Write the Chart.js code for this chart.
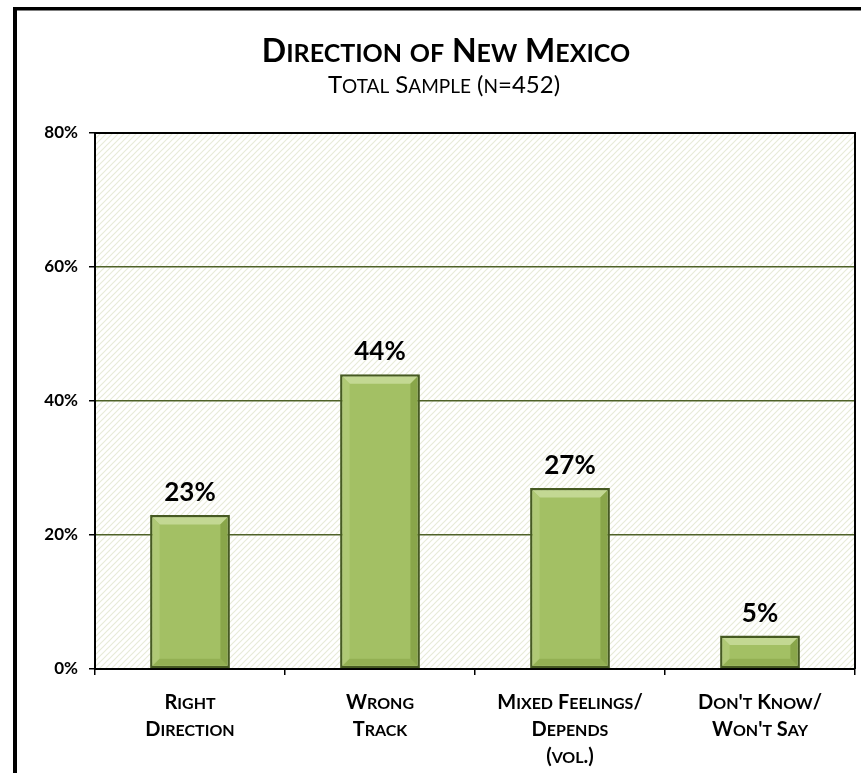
<!DOCTYPE html>
<html>
<head>
<meta charset="utf-8">
<script src="https://cdn.jsdelivr.net/npm/chart.js@4.4.1/dist/chart.umd.min.js"></script>
<style>
  html, body { margin: 0; padding: 0; background: #fff; }
  #wrap { width: 861px; height: 773px; }
</style>
</head>
<body>
<div id="wrap"><canvas id="chart"></canvas></div>
<script>
const title = 'Direction of New Mexico';
const subtitle = 'Total Sample (n=452)';
const categories = [
  ['Right', 'Direction'],
  ['Wrong', 'Track'],
  ['Mixed Feelings/', 'Depends', '(vol.)'],
  ["Don't Know/", "Won't Say"]
];
const values = [23, 44, 27, 5];

const FONT = 'Lato, "Open Sans", sans-serif';

// Word-style small caps: lowercase letters drawn as smaller capitals
function drawSmallCaps(ctx, text, cx, baseline, size, weight) {
  const small = Math.round(size * 0.78);
  const runs = [];
  for (const ch of text) {
    const lower = ch !== ch.toUpperCase();
    const font = `${weight} ${lower ? small : size}px ${FONT}`;
    const last = runs[runs.length - 1];
    if (last && last.font === font) last.text += ch.toUpperCase();
    else runs.push({ font, text: ch.toUpperCase() });
  }
  let total = 0;
  runs.forEach(r => { ctx.font = r.font; r.w = ctx.measureText(r.text).width; total += r.w; });
  let x = cx - total / 2;
  ctx.textAlign = 'left';
  ctx.textBaseline = 'alphabetic';
  runs.forEach(r => { ctx.font = r.font; ctx.fillText(r.text, x, baseline); x += r.w; });
}

function hatchPattern(ctx) {
  const c = document.createElement('canvas');
  c.width = 6; c.height = 6;
  const p = c.getContext('2d');
  p.fillStyle = '#ffffff';
  p.fillRect(0, 0, 6, 6);
  p.strokeStyle = '#e8ebd9';
  p.lineWidth = 1.2;
  p.beginPath();
  p.moveTo(-1, 7); p.lineTo(7, -1);
  p.moveTo(-1, 1); p.lineTo(1, -1);
  p.moveTo(5, 7); p.lineTo(7, 5);
  p.stroke();
  return ctx.createPattern(c, 'repeat');
}

const framePlugin = {
  id: 'frame',
  beforeDraw(chart) {
    const { ctx, chartArea: a } = chart;
    ctx.save();
    ctx.fillStyle = '#fff';
    ctx.fillRect(0, 0, chart.width, chart.height);
    ctx.fillStyle = '#000';
    ctx.fillRect(13, 7, 4, chart.height - 7);
    ctx.fillRect(13, 7, chart.width - 13, 3.5);
    ctx.fillStyle = hatchPattern(ctx);
    ctx.fillRect(a.left, a.top, a.right - a.left, a.bottom - a.top);
    ctx.fillStyle = '#000';
    drawSmallCaps(ctx, title, 446, 62, 32, 'bold');
    drawSmallCaps(ctx, subtitle, 444, 93, 24, 'normal');
    ctx.restore();
  },
  afterDraw(chart) {
    const { ctx, chartArea: a } = chart;
    ctx.save();
    ctx.strokeStyle = '#000';
    ctx.lineWidth = 2;
    ctx.beginPath();
    ctx.moveTo(a.left, a.top);
    ctx.lineTo(a.right, a.top);
    ctx.lineTo(a.right, a.bottom);
    ctx.stroke();
    ctx.restore();
  }
};

// Bevelled bars, value labels and category labels
const barPlugin = {
  id: 'bars',
  afterDatasetsDraw(chart) {
    const { ctx } = chart;
    const meta = chart.getDatasetMeta(0);
    const bw = 2.5, d = 7;
    ctx.save();
    meta.data.forEach((bar, i) => {
      const p = bar.getProps(['x', 'y', 'base', 'width'], true);
      const l = p.x - p.width / 2 + bw, r = p.x + p.width / 2 - bw;
      const t = p.y + bw, b = p.base - bw;
      const dd = Math.min(d, (b - t) / 2);
      const face = (pts, color) => {
        ctx.fillStyle = color;
        ctx.beginPath();
        ctx.moveTo(pts[0][0], pts[0][1]);
        pts.slice(1).forEach(q => ctx.lineTo(q[0], q[1]));
        ctx.closePath();
        ctx.fill();
      };
      face([[l, t], [r, t], [r - dd, t + dd], [l + dd, t + dd]], '#c3d893');
      face([[l, t], [l + dd, t + dd], [l + dd, b - dd], [l, b]], '#afc975');
      face([[r, t], [r, b], [r - dd, b - dd], [r - dd, t + dd]], '#89a64a');
      face([[l, b], [l + dd, b - dd], [r - dd, b - dd], [r, b]], '#93b053');

      ctx.fillStyle = '#000';
      ctx.font = `bold 26px ${FONT}`;
      ctx.textAlign = 'center';
      ctx.textBaseline = 'alphabetic';
      ctx.fillText(values[i] + '%', p.x, p.y - 14);
    });

    const xs = chart.scales.x;
    ctx.fillStyle = '#000';
    categories.forEach((lines, i) => {
      const cx = xs.getPixelForValue(i);
      lines.forEach((line, j) => {
        drawSmallCaps(ctx, line, cx, 709 + j * 27, 20, 'bold');
      });
    });
    ctx.restore();
  }
};

const ctx = document.getElementById('chart').getContext('2d');
new Chart(ctx, {
  type: 'bar',
  data: {
    labels: categories.map(c => c.join(' ')),
    datasets: [{
      data: values,
      backgroundColor: '#a3c064',
      borderColor: '#465a22',
      borderWidth: 2.5,
      borderSkipped: false,
      barPercentage: 0.42,
      categoryPercentage: 1
    }]
  },
  options: {
    responsive: true,
    maintainAspectRatio: false,
    animation: false,
    layout: { padding: { top: 133, right: 6, left: 0, bottom: 0 } },
    plugins: {
      legend: { display: false },
      tooltip: { enabled: false }
    },
    scales: {
      x: {
        afterFit(scale) { scale.height = 104; },
        grid: {
          offset: true,
          drawOnChartArea: false,
          drawTicks: true,
          tickLength: 6,
          tickColor: '#000',
          lineWidth: 1.5
        },
        border: { display: true, color: '#000', width: 2 },
        ticks: { callback: () => '' }
      },
      y: {
        min: 0,
        max: 80,
        afterFit(scale) { scale.width = 95; },
        ticks: {
          stepSize: 20,
          callback: v => v + '%',
          color: '#000',
          padding: 11,
          font: { family: FONT, size: 17, weight: 'bold' }
        },
        grid: {
          color: c => (c.tick && (c.tick.value === 0 || c.tick.value === 80)) ? '#000' : '#4f6228',
          lineWidth: 1.5,
          tickLength: 6,
          tickColor: '#000'
        },
        border: { display: true, color: '#000', width: 2 }
      }
    }
  },
  plugins: [framePlugin, barPlugin]
});
</script>
</body>
</html>
